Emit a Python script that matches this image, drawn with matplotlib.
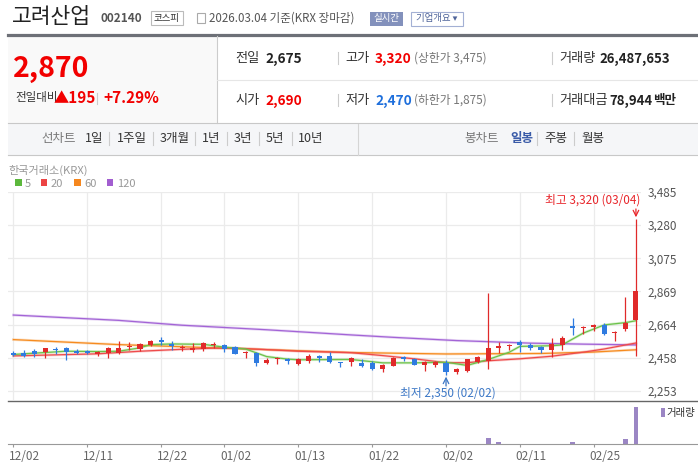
import matplotlib
matplotlib.use('Agg')
import matplotlib.pyplot as plt
import matplotlib.transforms as mtransforms
from matplotlib.patches import Rectangle
from matplotlib.lines import Line2D

FONT = ['Noto Sans CJK KR', 'DejaVu Sans']
plt.rcParams['font.family'] = FONT

# trading days shown on the chart
dates = ['12/02', '12/03', '12/04', '12/05', '12/08', '12/09', '12/10', '12/11', '12/12', '12/15',
         '12/16', '12/17', '12/18', '12/19', '12/22', '12/23', '12/24', '12/26', '12/29', '12/30',
         '01/02', '01/05', '01/06', '01/07', '01/08', '01/09', '01/12', '01/13', '01/14', '01/15',
         '01/16', '01/19', '01/20', '01/21', '01/22', '01/23', '01/26', '01/27', '01/28', '01/29',
         '01/30', '02/02', '02/03', '02/04', '02/05', '02/06', '02/09', '02/10', '02/11', '02/12',
         '02/13', '02/19', '02/20', '02/23', '02/24', '02/25', '02/26', '02/27', '03/03', '03/04']

opens = [2487, 2491, 2501, 2497, 2513, 2516, 2503, 2499, 2479, 2487,
         2487, 2528, 2511, 2538, 2571, 2544, 2518, 2509, 2511, 2540,
         2538, 2528, 2489, 2491, 2429, 2450, 2450, 2423, 2438, 2472,
         2470, 2435, 2433, 2427, 2425, 2390, 2409, 2464, 2452, 2413,
         2415, 2429, 2370, 2376, 2434, 2438, 2517, 2529, 2554, 2538,
         2523, 2505, 2540, 2658, 2642, 2648, 2660, 2609, 2638, 2690]
highs = [2503, 2507, 2511, 2516, 2528, 2524, 2513, 2507, 2503, 2528,
         2565, 2559, 2548, 2571, 2585, 2565, 2540, 2553, 2557, 2555,
         2544, 2534, 2503, 2497, 2454, 2464, 2460, 2458, 2479, 2477,
         2493, 2435, 2464, 2448, 2436, 2420, 2462, 2470, 2460, 2438,
         2438, 2446, 2393, 2452, 2468, 2862, 2556, 2546, 2570, 2548,
         2533, 2580, 2595, 2705, 2658, 2666, 2672, 2625, 2837, 3320]
lows = [2470, 2466, 2462, 2456, 2483, 2442, 2483, 2483, 2472, 2456,
        2483, 2507, 2499, 2532, 2540, 2507, 2499, 2497, 2503, 2520,
        2497, 2479, 2454, 2407, 2421, 2419, 2419, 2415, 2425, 2431,
        2429, 2400, 2405, 2401, 2383, 2368, 2405, 2438, 2411, 2374,
        2403, 2350, 2358, 2372, 2427, 2387, 2485, 2505, 2493, 2509,
        2485, 2462, 2509, 2597, 2603, 2625, 2597, 2560, 2627, 2470]
closes = [2474, 2472, 2483, 2516, 2509, 2497, 2487, 2487, 2493, 2516,
          2516, 2532, 2542, 2565, 2555, 2530, 2522, 2522, 2553, 2546,
          2511, 2481, 2493, 2425, 2444, 2460, 2438, 2452, 2470, 2456,
          2431, 2429, 2458, 2407, 2391, 2415, 2456, 2448, 2413, 2434,
          2431, 2368, 2391, 2448, 2464, 2519, 2533, 2539, 2535, 2517,
          2505, 2546, 2580, 2642, 2648, 2662, 2607, 2621, 2675, 2870]
# volume in millions of shares
volumes = [0.03, 0.02, 0.03, 0.04, 0.02, 0.03, 0.02, 0.02, 0.02, 0.04,
           0.04, 0.03, 0.03, 0.04, 0.03, 0.03, 0.02, 0.02, 0.04, 0.02,
           0.03, 0.03, 0.02, 0.05, 0.03, 0.02, 0.02, 0.03, 0.03, 0.02,
           0.03, 0.02, 0.03, 0.03, 0.03, 0.03, 0.04, 0.03, 0.03, 0.02,
           0.02, 0.05, 0.03, 0.05, 0.04, 4.3, 1.1, 0.06, 0.05, 0.04,
           0.04, 0.06, 0.07, 1.1, 0.05, 0.05, 0.06, 0.05, 3.4, 26.49]

# moving averages at sample days
ma5_idx = [0, 2, 5, 8, 10, 12, 13, 15, 18, 20, 22, 24, 26, 27, 32, 35, 38, 41, 43, 45, 47, 48, 51, 52, 54, 56, 58, 59]
ma5_val = [2479, 2487, 2499, 2497, 2499, 2520, 2540, 2544, 2542, 2524, 2513, 2466, 2450, 2446, 2448, 2427,
           2427, 2431, 2411, 2448, 2493, 2529, 2533, 2538, 2611, 2662, 2676, 2688]
ma20_idx = [0, 8, 12, 16, 19, 21, 24, 27, 32, 35, 38, 41, 43, 45, 48, 51, 54, 56, 59]
ma20_val = [2470, 2483, 2499, 2511, 2518, 2518, 2509, 2499, 2490, 2472, 2452, 2428, 2428, 2440, 2452, 2468,
            2493, 2513, 2550]
ma60_idx = [0, 10, 20, 32, 41, 50, 55, 59]
ma60_val = [2571, 2540, 2518, 2491, 2482, 2485, 2494, 2508]
ma120_idx = [0, 10, 16, 24, 32, 36, 42, 49, 54, 59]
ma120_val = [2723, 2690, 2660, 2632, 2600, 2585, 2565, 2549, 2543, 2538]

price_ticks = [2253, 2458, 2664, 2869, 3075, 3280, 3485]
tick_labels = ['12/02', '12/11', '12/22', '01/02', '01/13', '01/22', '02/02', '02/11', '02/25']

RED = '#e02a2a'
BLUE = '#2f7be0'
W, H = 698, 465

fig = plt.figure(figsize=(W / 100, H / 100), dpi=100)
fig.patch.set_facecolor('white')


def T(x, y, s, size, color='#333333', weight='normal', ha='left', va='center'):
    fig.text(x / W, 1 - y / H, s, fontsize=size, color=color, fontweight=weight, ha=ha, va=va)


def hline(x0, x1, y, color, lw=0.8):
    fig.add_artist(Line2D([x0 / W, x1 / W], [1 - y / H, 1 - y / H], color=color, lw=lw))


def vline(x, y0, y1, color, lw=0.8):
    fig.add_artist(Line2D([x / W, x / W], [1 - y0 / H, 1 - y1 / H], color=color, lw=lw))


def box(x0, y0, x1, y1, fc, ec='none', lw=0.8):
    fig.add_artist(Rectangle((x0 / W, 1 - y1 / H), (x1 - x0) / W, (y1 - y0) / H,
                             fc=fc, ec=ec, lw=lw, transform=fig.transFigure))


# ---- header ----
T(12, 17, '고려산업', 15.5, '#222222')
T(101, 19, '002140', 8.5, '#555555', 'bold')
box(151, 11, 182.5, 25, 'white', '#bbbbbb')
T(166.7, 18, '코스피', 6.8, '#333333', ha='center')
box(197, 13, 205, 23, 'white', '#aaaaaa')
T(209, 18, '2026.03.04 기준(KRX 장마감)', 8.3, '#555555')
box(369.5, 11.7, 403, 25.7, '#8391bc')
T(386.2, 18.5, '실시간', 6.8, 'white', ha='center')
box(410.5, 11.7, 463, 25.7, 'white', '#a3b0d4')
T(436.7, 18.5, '기업개요 ▾', 6.8, '#4f649a', ha='center')

hline(8, 698, 35, '#6d7077', 2.3)
box(8, 36.5, 216.7, 123, '#f9f9f9')
vline(216.7, 36.5, 123, '#cccccc')
hline(216.7, 698, 80, '#e6e6e6')
hline(8, 698, 123, '#c8c8c8')

T(13, 69, '2,870', 20.5, '#f20000', 'bold')
T(15, 98, '전일대비', 8.3, '#333333')
T(54, 98, '▲195', 11, '#f20000', 'bold')
vline(97.3, 93, 104, '#cccccc')
T(103, 98, '+7.29%', 11, '#f20000', 'bold')

for y, items in [(58.5, [(235, '전일', '#333333', 'normal', 9.5), (265, '2,675', '#222222', 'bold', 9.8),
                         (345, '고가', '#333333', 'normal', 9.5), (375, '3,320', '#f20000', 'bold', 9.8),
                         (414, '(상한가 3,475)', '#777777', 'normal', 8.5),
                         (559, '거래량', '#333333', 'normal', 9.5), (599, '26,487,653', '#222222', 'bold', 9.5)]),
                 (100.5, [(235, '시가', '#333333', 'normal', 9.5), (265, '2,690', '#f20000', 'bold', 9.8),
                          (345, '저가', '#333333', 'normal', 9.5), (375, '2,470', '#1e6fdc', 'bold', 9.8),
                          (414, '(하한가 1,875)', '#777777', 'normal', 8.5),
                          (559, '거래대금', '#333333', 'normal', 9.5), (609, '78,944', '#222222', 'bold', 9.5),
                          (653, '백만', '#222222', 'bold', 9)])]:
    for x, s, c, wgt, sz in items:
        T(x, y, s, sz, c, wgt)
    vline(338, y - 6, y + 6, '#cccccc')
    vline(552, y - 6, y + 6, '#cccccc')

# ---- tab bar ----
box(8, 123.5, 698, 154.7, '#f5f6f8')
hline(8, 698, 154.7, '#c8c8c8')
vline(358, 123.5, 154.7, '#d5d5d5')
T(41.5, 138.5, '선차트', 9, '#777777')
tabs = [(84.6, '1일'), (116.6, '1주일'), (159.4, '3개월'), (201.7, '1년'), (233.7, '3년'), (265.8, '5년'), (298, '10년')]
seps = [109, 152.7, 195, 227, 259, 291.6]
for x, s in tabs:
    T(x, 138.5, s, 9, '#333333')
for x in seps:
    vline(x, 132, 145, '#cccccc')
T(464, 138.5, '봉차트', 9, '#777777')
T(510, 138.5, '일봉', 9, '#3a5ba8', 'bold')
vline(536.5, 132, 145, '#cccccc')
T(544, 138.5, '주봉', 9, '#333333')
vline(573.5, 132, 145, '#cccccc')
T(581.5, 138.5, '월봉', 9, '#333333')

# ---- chart legend ----
T(8, 170.5, '한국거래소(KRX)', 8, '#999999')
for x, c, s in [(15, '#5cb83c', '5'), (40.7, '#ec4444', '20'), (74, '#f5871f', '60'), (106.7, '#a25ed0', '120')]:
    box(x, 179.5, x + 6.5, 186, c)
    T(x + 10, 183.5, s, 8, '#999999')

# ---- price panel ----
n = len(closes)
ax = fig.add_axes([8 / W, 1 - 400 / H, 633 / W, 208 / H])
ax.set_xlim(-0.51, n - 0.52)
ax.set_ylim(2197, 3485)
tick_idx = [dates.index(t) for t in tick_labels]
ax.set_xticks(tick_idx)
ax.set_yticks(price_ticks)
ax.set_yticklabels([f'{v:,}' for v in price_ticks])
ax.yaxis.tick_right()
ax.tick_params(axis='x', length=0, labelbottom=False)
ax.tick_params(axis='y', length=0, pad=5, labelsize=8.5, labelcolor='#555555')
ax.grid(color='#ebebeb', lw=0.9)
ax.set_axisbelow(True)
for sp in ax.spines.values():
    sp.set_visible(False)

for idx, val, c in [(ma120_idx, ma120_val, '#a364d6'), (ma60_idx, ma60_val, '#f68b1f'),
                    (ma20_idx, ma20_val, '#ee4b4b'), (ma5_idx, ma5_val, '#6cc24a')]:
    ax.plot(idx, val, color=c, lw=2.0, alpha=0.25, zorder=2)
    ax.plot(idx, val, color=c, lw=0.9, zorder=2)

for i in range(n):
    col = RED if closes[i] >= opens[i] else BLUE
    ax.vlines(i, lows[i], highs[i], color=col, lw=0.9, zorder=3)
    bot = min(opens[i], closes[i])
    ax.bar(i, max(abs(closes[i] - opens[i]), 6), bottom=bot, width=0.48, color=col, lw=0, zorder=3)

hi = highs.index(max(highs))
lo = lows.index(min(lows))
ax.annotate('', xy=(hi, highs[hi]), xytext=(hi, highs[hi] + 60),
            arrowprops=dict(arrowstyle='->', color='#e8262b', lw=0.9, shrinkA=0, shrinkB=1))
ax.text(hi, highs[hi], f'최고 {highs[hi]:,} ({dates[hi]})', fontsize=8.5, color='#e8262b', ha='right', va='center',
        transform=mtransforms.offset_copy(ax.transData, fig=fig, x=4, y=18.6, units='dots'))
ax.annotate('', xy=(lo, lows[lo]), xytext=(lo, lows[lo] - 66),
            arrowprops=dict(arrowstyle='->', color='#3d78c6', lw=0.9, shrinkA=0, shrinkB=1))
ax.text(lo, lows[lo], f'최저 {lows[lo]:,} ({dates[lo]})', fontsize=8.5, color='#3d78c6', ha='center', va='center',
        transform=mtransforms.offset_copy(ax.transData, fig=fig, x=1.5, y=-18, units='dots'))

# ---- volume panel ----
hline(8, 698, 400.5, '#666666', 1.0)
axv = fig.add_axes([8 / W, 1 - 443.7 / H, 633 / W, 43.2 / H])
axv.set_xlim(-0.51, n - 0.52)
axv.set_ylim(0, 31.5)
axv.bar(range(n), volumes, width=0.45, color='#9b86c4', lw=0)
axv.set_xticks(tick_idx)
axv.set_xticklabels([])
axv.set_yticks([])
axv.tick_params(axis='x', direction='out', length=2.3, color='#999999', width=0.8)
for sp in axv.spines.values():
    sp.set_visible(False)
hline(8, 698, 443.7, '#999999', 0.8)
lab_tr = mtransforms.offset_copy(mtransforms.blended_transform_factory(axv.transData, fig.transFigure),
                                 fig=fig, x=-4, y=0, units='dots')
for i, lab in zip(tick_idx, tick_labels):
    axv.text(i, 1 - 456 / H, lab, transform=lab_tr, ha='left', va='center', fontsize=8.5, color='#666666')

box(661, 408, 664.5, 417, '#9b86c4')
T(666, 412.5, '거래량', 7.5, '#333333')

fig.savefig('out.png', dpi=100, facecolor='white')
